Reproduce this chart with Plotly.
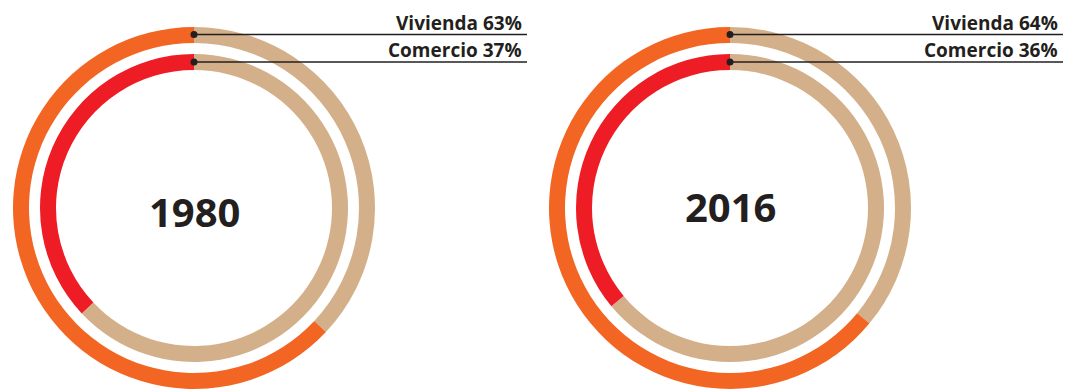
import plotly.graph_objects as go

# Share of land use by year
years = ["1980", "2016"]
vivienda = [63, 64]
comercio = [37, 36]
series_names = ["Vivienda", "Comercio"]

ORANGE = "#F26522"
RED = "#EE1C25"
TAN = "#D3B08A"
INK = "#231F20"

W, H = 1065, 389

# Pixel layout of each ring pair
centers_x = [194, 730]
center_y = 208          # from top
r_outer, r_inner = 181, 154
ring_w = 16
year_y = [212, 206]
label_right = [524, 1060]
line_end = [527, 1063]
line_y = [34.5, 62]


def px_x(v):
    return v / W


def px_y(v):
    return 1 - v / H


fig = go.Figure()

for i, yr in enumerate(years):
    cx = centers_x[i]
    for vals, color, r in (
        (vivienda[i], ORANGE, r_outer),
        (comercio[i], RED, r_inner),
    ):
        # remainder first, clockwise from 12 o'clock, so the coloured
        # share closes the ring on the left side back at the top
        fig.add_trace(go.Pie(
            values=[100 - vals, vals],
            marker=dict(colors=[TAN, color], line=dict(width=0)),
            hole=(r - ring_w) / r,
            sort=False,
            direction="clockwise",
            rotation=0,
            textinfo="none",
            hoverinfo="skip",
            showlegend=False,
            domain=dict(
                x=[px_x(cx - r), px_x(cx + r)],
                y=[max(0, px_y(center_y + r)), px_y(center_y - r)],
            ),
        ))

    # year in the middle
    fig.add_annotation(
        x=px_x(cx), y=px_y(year_y[i]), xref="paper", yref="paper",
        text=f"<b>{yr}</b>", showarrow=False,
        font=dict(family="Open Sans", size=40, color=INK),
        xanchor="center", yanchor="middle",
    )

    # leader lines with labels
    for j, (name, val) in enumerate(zip(series_names, (vivienda[i], comercio[i]))):
        ly = line_y[j]
        fig.add_shape(
            type="line", xref="paper", yref="paper",
            x0=px_x(cx), x1=px_x(line_end[i]), y0=px_y(ly), y1=px_y(ly),
            line=dict(color=INK, width=1.3),
        )
        d = 3.5
        fig.add_shape(
            type="circle", xref="paper", yref="paper",
            x0=px_x(cx - d), x1=px_x(cx + d), y0=px_y(ly + d), y1=px_y(ly - d),
            fillcolor=INK, line=dict(width=0),
        )
        fig.add_annotation(
            x=px_x(label_right[i]), y=px_y(ly + 3.5), xref="paper", yref="paper",
            text=f"<b>{name} {val}%</b>", showarrow=False,
            font=dict(family="Open Sans", size=19, color=INK),
            xanchor="right", yanchor="bottom",
        )

fig.update_layout(
    width=W, height=H,
    margin=dict(l=0, r=0, t=0, b=0),
    paper_bgcolor="white",
    plot_bgcolor="white",
)

fig.write_html("out.html")
